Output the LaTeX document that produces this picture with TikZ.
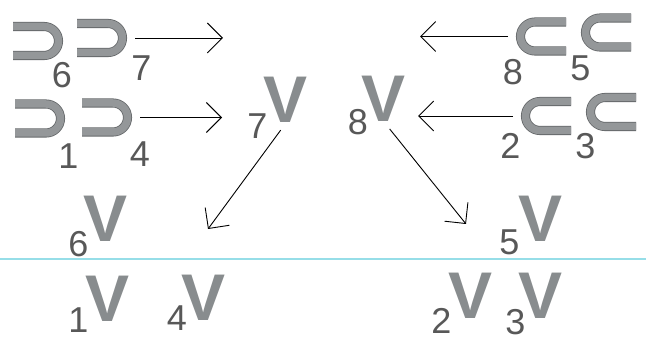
\documentclass[tikz,border=0pt]{standalone}
\usepackage{fontspec}
\setmainfont{Liberation Sans}
\usetikzlibrary{arrows.meta,positioning}

\definecolor{inkgray}{RGB}{136,140,142}
\definecolor{edgegray}{RGB}{100,103,105}
\definecolor{numgray}{RGB}{88,88,88}
\definecolor{rulecyan}{RGB}{150,222,232}

\begin{document}
\begin{tikzpicture}[
  x=1pt, y=-1pt,
  letter/.style={inner sep=0pt, text=inkgray, font=\fontsize{66}{66}\selectfont\bfseries},
  num/.style={inner sep=0pt, text=numgray, font=\fontsize{36}{36}\selectfont},
  arrow/.style={-{Straight Barb[length=15pt,width=30pt]}, line width=0.9pt},
  hookline/.style={draw=edgegray, line width=0.8pt, double=inkgray!90, double distance=7.5pt, rounded corners=14.5pt},
  hookR/.pic={
    \draw[hookline] (0,-14.5) -- (45.5,-14.5) -- (45.5,14.5) -- (0,14.5);
    \coordinate (-tip) at (58,0);
  },
  hookL/.pic={
    \draw[hookline] (0,-14.5) -- (-45.5,-14.5) -- (-45.5,14.5) -- (0,14.5);
    \coordinate (-tip) at (-58,0);
  },
]
  \fill[white] (0,0) rectangle (646,342);
  \useasboundingbox (0,0) rectangle (646,342);

  % left pairs
  \pic (a1) at (13,41) {hookR};
  \pic (a2) at (77,38) {hookR};
  \pic (b1) at (15,118.5) {hookR};
  \pic (b2) at (82,117.5) {hookR};
  \node[num] (n6) at (62,75) {6};
  \node[num] (n7) at (141.5,68.5) {7};
  \node[num] (n1) at (68.5,156.5) {1};
  \node[num] (n4) at (140,154.5) {4};

  % right pairs
  \pic (c1) at (566,36.5) {hookL};
  \pic (c2) at (631,32.5) {hookL};
  \pic (d1) at (571,116) {hookL};
  \pic (d2) at (636,112) {hookL};
  \node[num] (n8) at (513,72.5) {8};
  \node[num] (n5) at (580.5,68.5) {5};
  \node[num] (n2) at (510.5,145.5) {2};
  \node[num] (n3) at (585.5,146.5) {3};

  % middle letters
  \node[letter] (v7) at (286,100) {V};
  \node[num] (v7n) at (257.5,126.5) {7};
  \node[letter] (v8) at (384,99) {V};
  \node[num] (v8n) at (358,122) {8};

  \coordinate (topL) at (223,38);
  \coordinate (midL) at (222,117.5);
  \coordinate (topR) at (420,36.5);
  \coordinate (midR) at (418,116);
  \coordinate (downL) at (208,229);
  \coordinate (downR) at (466,224);

  \draw[arrow] (a2-tip) -- (topL);
  \draw[arrow] (b2-tip) -- (midL);
  \draw[arrow] (c1-tip) -- (topR);
  \draw[arrow] (d1-tip) -- (midR);
  \draw[arrow, shorten <=9pt] (v7.south) -- (downL);
  \draw[arrow, shorten <=9pt] (v8.south) -- (downR);

  % lower letters
  \node[letter] (v6) at (106,218.5) {V};
  \node[num] (v6n) at (78.5,244.5) {6};
  \node[letter] (v5) at (541,219) {V};
  \node[num] (v5n) at (509.5,242.5) {5};

  \draw[rulecyan, line width=1.8pt] (0,259) -- (646,259);

  \node[letter] (v1) at (108,299) {V};
  \node[num] (v1n) at (78.5,320) {1};
  \node[letter] (v4) at (204,298) {V};
  \node[num] (v4n) at (177,318) {4};
  \node[letter] (v2) at (471,296) {V};
  \node[num] (v2n) at (441.5,321) {2};
  \node[letter] (v3) at (541,296) {V};
  \node[num] (v3n) at (515.5,322) {3};
\end{tikzpicture}
\end{document}
